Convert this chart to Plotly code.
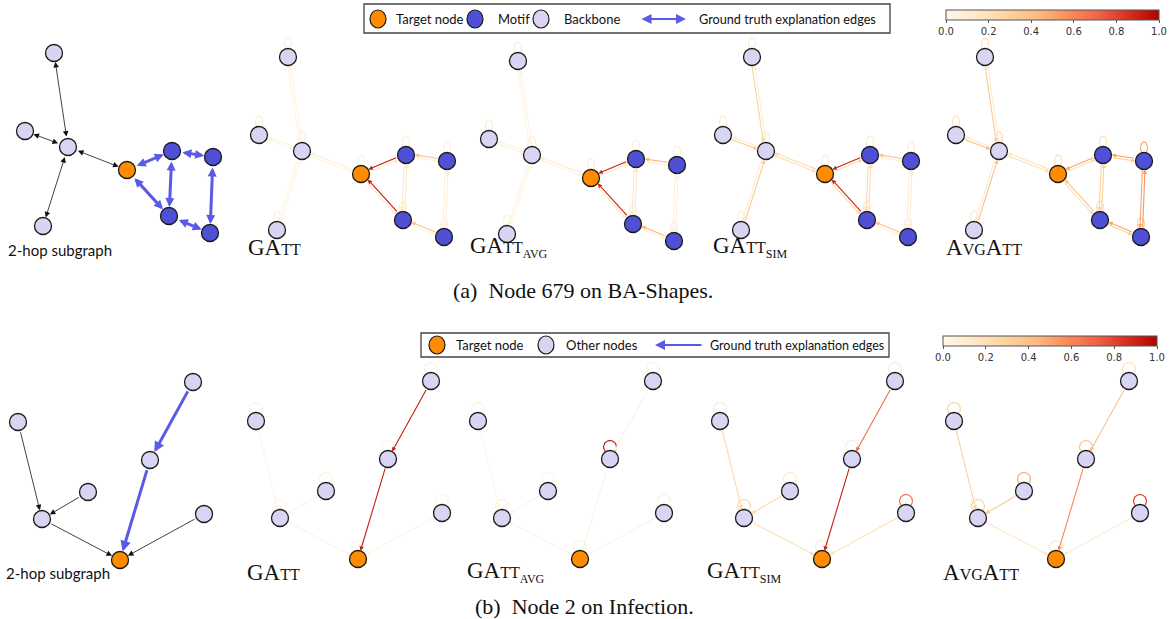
import numpy as np
import plotly.graph_objects as go
from plotly.colors import sample_colorscale

W, H = 1169, 619

# ---------------- data ----------------
# BA-Shapes, node 679 (layout coordinates, y down, relative to hub node)
ba_names = ["top", "left", "hub", "bottom", "target", "m1", "m2", "m3", "m4"]
ba_x = [-14, -43, 0, -25, 59, 104, 145, 101, 142]
ba_y = [-94, -16, 0, 79, 23, 4, 10, 69, 86]
ba_type = ["backbone", "backbone", "backbone", "backbone", "target", "motif", "motif", "motif", "motif"]
ba_edges = [(2, 0), (2, 1), (2, 3), (2, 4), (4, 5), (4, 7), (5, 6), (5, 7), (6, 8), (7, 8)]
ba_truth = [False, False, False, False, True, True, True, True, True, True]
# attention u->v (fwd) and v->u (bwd) for each edge, and self loops
ba_fwd = {
    "GATT":    [0.05, 0.06, 0.05, 0.06, 0.15, 0.15, 0.05, 0.15, 0.08, 0.05],
    "GATT_AVG": [0.05, 0.06, 0.05, 0.06, 0.12, 0.12, 0.05, 0.15, 0.08, 0.05],
    "GATT_SIM": [0.10, 0.10, 0.10, 0.20, 0.25, 0.25, 0.08, 0.22, 0.08, 0.08],
    "AVGATT":  [0.12, 0.15, 0.12, 0.20, 0.22, 0.20, 0.30, 0.30, 0.50, 0.30],
}
ba_bwd = {
    "GATT":    [0.05, 0.06, 0.05, 0.08, 0.93, 0.93, 0.38, 0.15, 0.08, 0.38],
    "GATT_AVG": [0.05, 0.08, 0.05, 0.10, 0.90, 0.90, 0.45, 0.15, 0.08, 0.45],
    "GATT_SIM": [0.30, 0.35, 0.35, 0.22, 0.90, 0.90, 0.38, 0.22, 0.10, 0.38],
    "AVGATT":  [0.35, 0.42, 0.40, 0.18, 0.50, 0.38, 0.50, 0.30, 0.55, 0.50],
}
ba_loop = {
    "GATT":    [0.08, 0.08, 0.08, 0.08, 0.08, 0.08, 0.08, 0.08, 0.08],
    "GATT_AVG": [0.10, 0.10, 0.10, 0.10, 0.10, 0.10, 0.10, 0.10, 0.10],
    "GATT_SIM": [0.12, 0.12, 0.12, 0.12, 0.12, 0.12, 0.12, 0.12, 0.12],
    "AVGATT":  [0.20, 0.20, 0.25, 0.15, 0.20, 0.20, 0.50, 0.20, 0.30],
}

# Infection, node 2 (relative to target node)
inf_names = ["target", "tr", "l", "m", "s", "h", "r"]
inf_x = [0, 73, -102, 30, -32, -78, 84]
inf_y = [0, -178, -138, -100, -68, -41, -46]
inf_type = ["target", "other", "other", "other", "other", "other", "other"]
inf_edges = [(2, 5), (4, 5), (5, 0), (6, 0), (1, 3), (3, 0)]
inf_truth = [False, False, False, False, True, True]
inf_att = {
    "GATT":    [0.04, 0.05, 0.05, 0.05, 0.92, 0.92],
    "GATT_AVG": [0.04, 0.05, 0.05, 0.06, 0.06, 0.05],
    "GATT_SIM": [0.25, 0.25, 0.20, 0.20, 0.70, 0.92],
    "AVGATT":  [0.30, 0.35, 0.15, 0.12, 0.40, 0.60],
}
inf_loop = {
    "GATT":    [0.06, 0.06, 0.06, 0.06, 0.06, 0.06, 0.06],
    "GATT_AVG": [0.06, 0.06, 0.06, 0.95, 0.06, 0.08, 0.06],
    "GATT_SIM": [0.12, 0.12, 0.12, 0.12, 0.12, 0.25, 0.70],
    "AVGATT":  [0.15, 0.20, 0.30, 0.40, 0.50, 0.30, 0.85],
}

methods = ["GATT", "GATT_AVG", "GATT_SIM", "AVGATT"]
SC = "<span style='font-size:16px'>{}</span>"
SUB = "<sub><span style='font-size:12px'>{}</span></sub>"
method_labels = {
    "GATT": "GA" + SC.format("TT"),
    "GATT_AVG": "GA" + SC.format("TT") + SUB.format("AVG"),
    "GATT_SIM": "GA" + SC.format("TT") + SUB.format("SIM"),
    "AVGATT": "A" + SC.format("VG") + "A" + SC.format("TT"),
}
tick_vals = [0.0, 0.2, 0.4, 0.6, 0.8, 1.0]
tick_text = ["0.0", "0.2", "0.4", "0.6", "0.8", "1.0"]

# ---------------- styles ----------------
CSCALE = [[0.0, "#fff7ec"], [0.143, "#fee8c8"], [0.286, "#fdd49e"], [0.429, "#fdbb84"],
          [0.571, "#fc8d59"], [0.714, "#ef6548"], [0.857, "#d7301f"], [1.0, "#b30000"]]
NODE_COL = {"target": "#ff8c00", "motif": "#5050d6", "backbone": "#d8d4f2", "other": "#d8d4f2"}
BLUE = "#5a5ae6"
SERIF = "Liberation Serif"
SANS = "Lato"

row1_anchor_x = [68, 302, 532, 766, 999]
row1_anchor_y = [147, 151, 155, 151, 151]
row2_anchor_x = [120, 358, 580, 822, 1056]
row2_anchor_y = [560, 559, 559, 559, 559]


def col(w):
    return sample_colorscale(CSCALE, [min(max(w, 0), 1)])[0]


fig = go.Figure()
annotations = []
shapes = []
panel_id = [0]


def new_panel(ax, ay, L, R, T, B):
    panel_id[0] += 1
    i = panel_id[0]
    sx = "" if i == 1 else str(i)
    x0, x1 = max(ax - L, 0), min(ax + R, W)
    y0, y1 = max(ay - T, 0), min(ay + B, H)
    fig.layout["xaxis" + sx] = dict(domain=[x0 / W, x1 / W], range=[x0 - ax, x1 - ax],
                                    visible=False, anchor="y" + sx, fixedrange=True)
    fig.layout["yaxis" + sx] = dict(domain=[1 - y1 / H, 1 - y0 / H], range=[y1 - ay, y0 - ay],
                                    visible=False, anchor="x" + sx, fixedrange=True)
    return "x" + sx, "y" + sx


def arrow(xr, yr, p, q, color, width, size, side="end", off=0.0, stand=8.5, head=2):
    (px, py), (qx, qy) = p, q
    dx, dy = qx - px, qy - py
    n = np.hypot(dx, dy)
    nx, ny = -dy / n * off, dx / n * off
    annotations.append(dict(x=qx + nx, y=qy + ny, ax=px + nx, ay=py + ny, xref=xr, yref=yr,
                            axref=xr, ayref=yr, text="", showarrow=True, arrowhead=head,
                            startarrowhead=head, arrowside=side, arrowsize=size,
                            startarrowsize=size, arrowwidth=width, arrowcolor=color,
                            standoff=stand, startstandoff=stand))


def draw_nodes(xr, yr, xs, ys, types, size=17):
    fig.add_trace(go.Scatter(x=xs, y=ys, mode="markers", xaxis=xr, yaxis=yr, hoverinfo="skip",
                             marker=dict(size=size, color=[NODE_COL[t] for t in types],
                                         line=dict(color="#1a1a1a", width=1.3)),
                             showlegend=False))


def draw_loops(xr, yr, xs, ys, weights, rx, ry, cy):
    order = np.argsort(weights)
    t = np.linspace(0, 2 * np.pi, 40)
    for k in order:
        fig.add_trace(go.Scatter(x=xs[k] + rx * np.cos(t), y=ys[k] + cy + ry * np.sin(t),
                                 mode="lines", xaxis=xr, yaxis=yr, hoverinfo="skip",
                                 line=dict(color=col(weights[k]), width=1.1), showlegend=False))


# ---------------- row 1: BA-Shapes ----------------
for p in range(5):
    ax, ay = row1_anchor_x[p], row1_anchor_y[p]
    xr, yr = new_panel(ax, ay, 110, 170, 125, 100)
    pts = list(zip(ba_x, ba_y))
    if p == 0:
        for (u, v), tr in zip(ba_edges, ba_truth):
            if tr:
                arrow(xr, yr, pts[u], pts[v], BLUE, 3, 0.6, side="end+start", stand=9)
            else:
                arrow(xr, yr, pts[u], pts[v], "#111111", 0.8, 1.4, side="end+start", stand=9)
    else:
        m = methods[p - 1]
        draw_loops(xr, yr, ba_x, ba_y, ba_loop[m], 3.5, 6, -13)
        items = []
        for k, (u, v) in enumerate(ba_edges):
            items.append((ba_fwd[m][k], u, v))
            items.append((ba_bwd[m][k], v, u))
        items.sort()
        for w, u, v in items:
            arrow(xr, yr, pts[u], pts[v], col(w), 1.1, 0.8, off=1.3, stand=8.5)
    draw_nodes(xr, yr, ba_x, ba_y, ba_type)

# ---------------- row 2: Infection ----------------
for p in range(5):
    ax, ay = row2_anchor_x[p], row2_anchor_y[p]
    xr, yr = new_panel(ax, ay, 115, 105, 205, 15)
    pts = list(zip(inf_x, inf_y))
    if p == 0:
        for (u, v), tr in zip(inf_edges, inf_truth):
            if tr:
                arrow(xr, yr, pts[u], pts[v], BLUE, 3, 0.7, stand=9)
            else:
                arrow(xr, yr, pts[u], pts[v], "#111111", 0.8, 1.4, stand=9)
    else:
        m = methods[p - 1]
        draw_loops(xr, yr, inf_x, inf_y, inf_loop[m], 6.5, 6.5, -12)
        items = sorted((inf_att[m][k], u, v) for k, (u, v) in enumerate(inf_edges))
        for w, u, v in items:
            arrow(xr, yr, pts[u], pts[v], col(w), 1.1, 0.8, stand=8.5)
    draw_nodes(xr, yr, inf_x, inf_y, inf_type)

# ---------------- labels ----------------
def text(x, y, s, size, family, anchor="left", color="#111111"):
    annotations.append(dict(x=x / W, y=1 - y / H, xref="paper", yref="paper", text=s,
                            showarrow=False, xanchor=anchor, yanchor="middle",
                            font=dict(size=size, family=family, color=color)))


text(6, 250, "2-hop subgraph", 15, SANS)
text(4, 573, "2-hop subgraph", 15, SANS)
row1_lab_x = [246, 468, 711, 944]
row2_lab_x = [245, 465, 705, 941]
for k, m in enumerate(methods):
    text(row1_lab_x[k], 247, method_labels[m], 23, SERIF)
    text(row2_lab_x[k], 572, method_labels[m], 23, SERIF)

text(583, 290, "(a)  Node 679 on BA-Shapes.", 22, SERIF, anchor="center")
text(584, 606, "(b)  Node 2 on Infection.", 22, SERIF, anchor="center")

# ---------------- legends ----------------
def legend_circle(x, y, c, rx=8, ry=9):
    shapes.append(dict(type="circle", xref="paper", yref="paper", xsizemode="pixel",
                       ysizemode="pixel", xanchor=x / W, yanchor=1 - y / H,
                       x0=-rx, x1=rx, y0=-ry, y1=ry, fillcolor=c,
                       line=dict(color="#1a1a1a", width=1.2)))


def legend_box(x0, y0, x1, y1):
    shapes.append(dict(type="rect", xref="paper", yref="paper", x0=x0 / W, x1=x1 / W,
                       y0=1 - y1 / H, y1=1 - y0 / H, line=dict(color="#444444", width=1.3),
                       fillcolor="rgba(0,0,0,0)"))


legend_box(364, 4, 890, 33)
legend_circle(378, 19, NODE_COL["target"])
text(394, 19, "Target node", 13, SANS)
legend_circle(475, 19, NODE_COL["motif"])
text(496, 19, "Motif", 13, SANS)
legend_circle(541, 19, NODE_COL["backbone"])
text(562, 19, "Backbone", 13, SANS)
annotations.append(dict(x=686 / W, y=1 - 19 / H, xref="paper", yref="paper", ax=-46, ay=0,
                        axref="pixel", ayref="pixel", text="", showarrow=True, arrowhead=2,
                        startarrowhead=2, arrowside="end+start", arrowsize=1, startarrowsize=1,
                        arrowwidth=2, arrowcolor=BLUE))
text(697, 19, "Ground truth explanation edges", 12.7, SANS)

legend_box(421, 333, 889, 357)
legend_circle(437, 345, NODE_COL["target"])
text(454, 345, "Target node", 13, SANS)
legend_circle(546, 345, NODE_COL["other"])
text(564, 345, "Other nodes", 13, SANS)
annotations.append(dict(x=655 / W, y=1 - 345 / H, xref="paper", yref="paper", ax=48, ay=0,
                        axref="pixel", ayref="pixel", text="", showarrow=True, arrowhead=2,
                        arrowsize=1, arrowwidth=2, arrowcolor=BLUE))
text(708, 345, "Ground truth explanation edges", 12.5, SANS)

# ---------------- colorbars ----------------
def cbar(x0, x1, ytop):
    return dict(orientation="h", x=x0 / W, xanchor="left", y=1 - ytop / H, yanchor="top",
                len=x1 - x0, lenmode="pixels", thickness=10, xpad=0, ypad=0, outlinewidth=1,
                outlinecolor="#555555", tickvals=tick_vals, ticktext=tick_text, ticks="outside",
                ticklen=3, tickcolor="#555555",
                tickfont=dict(size=10, family="DejaVu Sans", color="#333333"))


fig.add_trace(go.Scatter(x=[None], y=[None], mode="markers", showlegend=False, hoverinfo="skip",
                         marker=dict(color=[0, 1], coloraxis="coloraxis")))
fig.add_trace(go.Scatter(x=[None], y=[None], mode="markers", showlegend=False, hoverinfo="skip",
                         marker=dict(color=[0, 1], coloraxis="coloraxis2")))

fig.update_layout(
    width=W, height=H, margin=dict(l=0, r=0, t=0, b=0),
    paper_bgcolor="white", plot_bgcolor="rgba(0,0,0,0)", showlegend=False,
    annotations=annotations, shapes=shapes,
    coloraxis=dict(colorscale=CSCALE, cmin=0, cmax=1, colorbar=cbar(946, 1159, 10)),
    coloraxis2=dict(colorscale=CSCALE, cmin=0, cmax=1, colorbar=cbar(943, 1157, 336)),
)
fig.write_html("out.html", config={"displayModeBar": False},
               post_script="document.body.style.margin='0px';")
